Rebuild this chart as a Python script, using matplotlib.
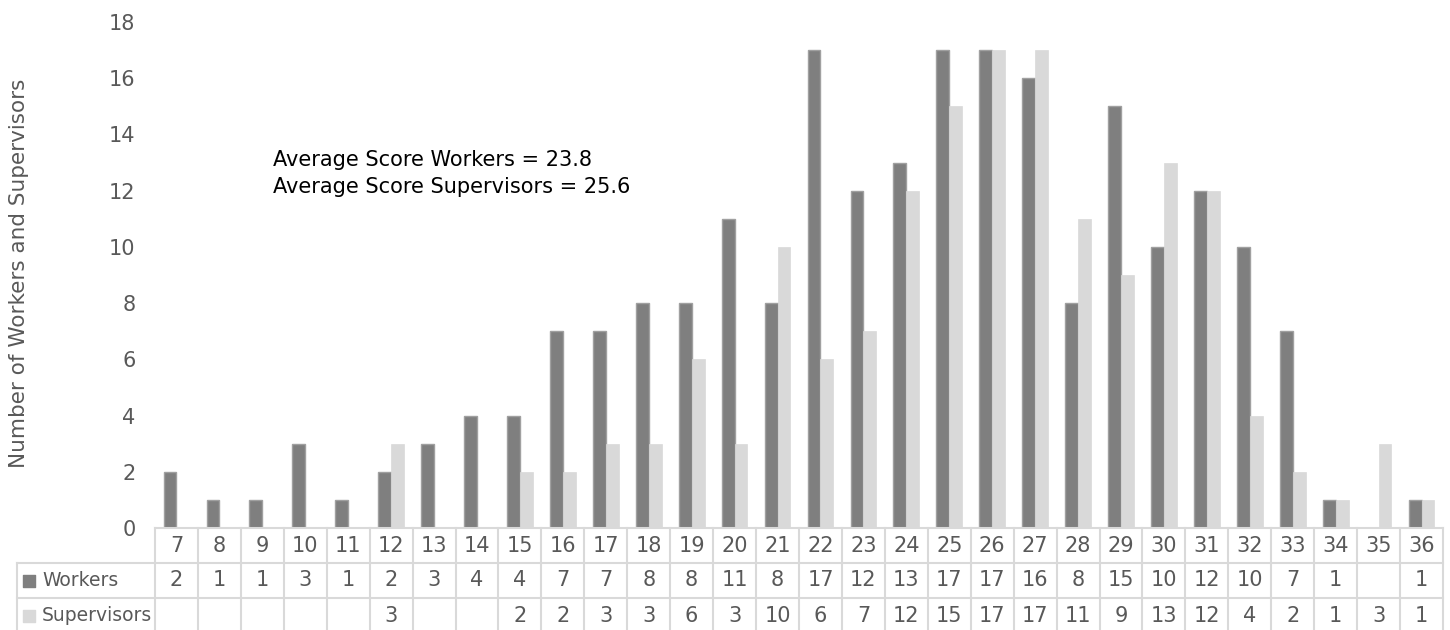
import numpy as np
import matplotlib
matplotlib.use("Agg")
import matplotlib.pyplot as plt

plt.rcParams['font.family'] = ['DejaVu Sans']

scores = list(range(7, 37))
workers = [2, 1, 1, 3, 1, 2, 3, 4, 4, 7, 7, 8, 8, 11, 8, 17, 12, 13, 17, 17,
           16, 8, 15, 10, 12, 10, 7, 1, None, 1]
supervisors = [None, None, None, None, None, 3, None, None, 2, 2, 3, 3, 6, 3, 10,
               6, 7, 12, 15, 17, 17, 11, 9, 13, 12, 4, 2, 1, 3, 1]
series_names = ["Workers", "Supervisors"]
notes = ["Average Score Workers = 23.8", "Average Score Supervisors = 25.6"]

W, H = 1450, 630
dark, light, grid, txt = '#7f7f7f', '#d9d9d9', '#d9d9d9', '#595959'
FS = 15

fig = plt.figure(figsize=(W / 100, H / 100), dpi=100)
x0, x1, y0, y18 = 155, 1443, 528, 22
ax = fig.add_axes([x0 / W, (H - y0) / H, (x1 - x0) / W, (y0 - y18) / H])

x = np.arange(len(scores))
w_vals = np.array([np.nan if v is None else v for v in workers], dtype=float)
s_vals = np.array([np.nan if v is None else v for v in supervisors], dtype=float)
ax.bar(x - 0.15, w_vals, width=0.3, color=dark, edgecolor='#a0a0a0', linewidth=1)
ax.bar(x + 0.15, s_vals, width=0.3, color=light, edgecolor=light, linewidth=0.5)

ax.set_xlim(-0.5, len(scores) - 0.5)
ax.set_ylim(0, 18)
ax.set_yticks(range(0, 19, 2))
ax.tick_params(axis='y', length=0, labelsize=FS, labelcolor=txt, pad=14)
ax.set_xticks([])
for s in ax.spines.values():
    s.set_visible(False)
fig.text(19 / W, (H - 273) / H, "Number of Workers and Supervisors", rotation=90,
         ha='center', va='center', fontsize=15.5, color=txt)

fig.text(273 / W, (H - 160) / H, notes[0], ha='left', va='center', fontsize=15, color='black')
fig.text(273 / W, (H - 187) / H, notes[1], ha='left', va='center', fontsize=15, color='black')

# data table below the axis
ax_t = fig.add_axes([x0 / W, 0, (x1 - x0) / W, (H - y0) / H])
ax_t.set_xlim(-0.5, len(scores) - 0.5)
ax_t.set_ylim(H, y0)
ax_t.axis('off')
cw = (x1 - x0) / len(scores)
xl = -0.5 - (x0 - 17) / cw
rows = [528, 563, 598, 633]
ax_t.plot([-0.5, len(scores) - 0.5], [rows[0], rows[0]], color=grid, lw=1.5, clip_on=False)
for r in rows[1:3]:
    ax_t.plot([xl, len(scores) - 0.5], [r, r], color=grid, lw=1.5, clip_on=False)
for i in range(len(scores) + 1):
    ax_t.plot([i - 0.5, i - 0.5], [rows[0], H], color=grid, lw=1.5, clip_on=False)
ax_t.plot([xl, xl], [rows[1], H], color=grid, lw=1.5, clip_on=False)

for i, sc in enumerate(scores):
    ax_t.text(i, (rows[0] + rows[1]) / 2, str(sc), ha='center', va='center', fontsize=FS, color=txt)
    if workers[i] is not None:
        ax_t.text(i, (rows[1] + rows[2]) / 2, str(workers[i]), ha='center', va='center',
                  fontsize=FS, color=txt)
    if supervisors[i] is not None:
        ax_t.text(i, (rows[2] + rows[3]) / 2, str(supervisors[i]), ha='center', va='center',
                  fontsize=FS, color=txt)

for name, col, r0, r1 in [(series_names[0], dark, rows[1], rows[2]),
                          (series_names[1], light, rows[2], rows[3])]:
    yc = (r0 + r1) / 2
    ax_t.scatter([xl + 12 / cw], [yc], marker='s', s=80, color=col, clip_on=False)
    ax_t.text(xl + 25 / cw, yc, name, ha='left', va='center', fontsize=13.5, color=txt,
              clip_on=False)

fig.savefig("out.png", dpi=100)
